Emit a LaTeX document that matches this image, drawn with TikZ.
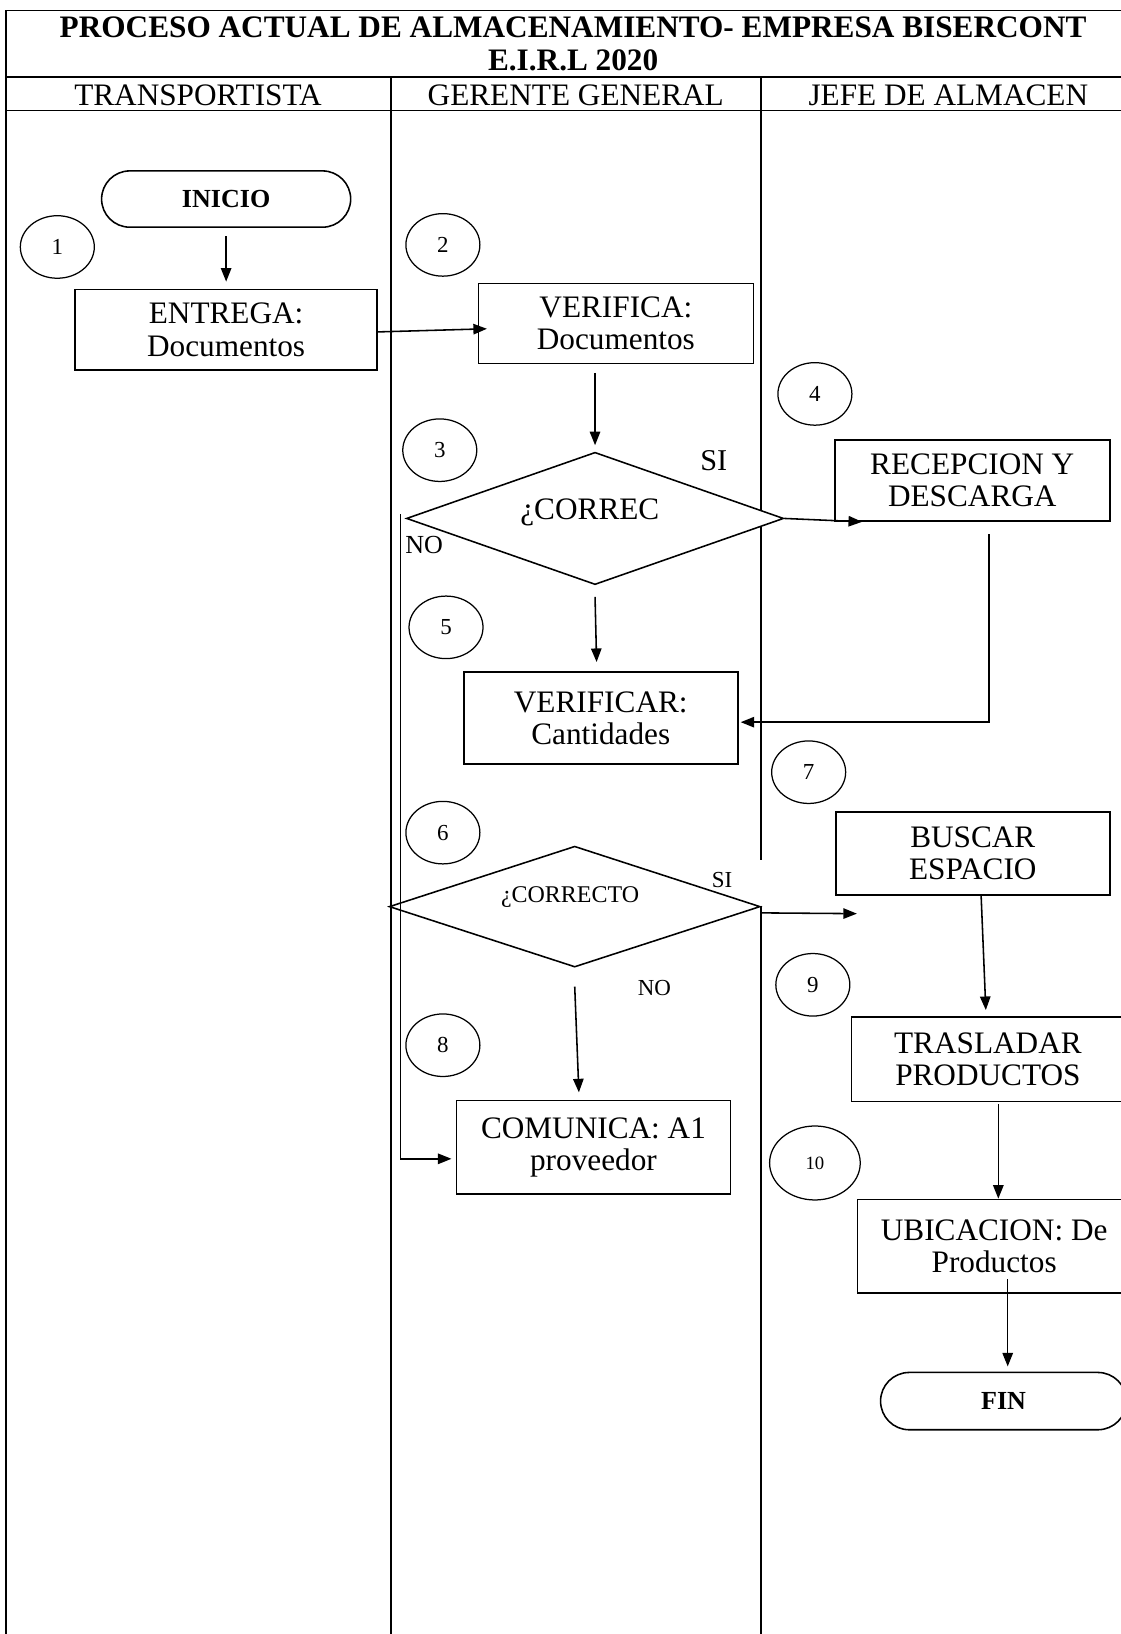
\documentclass[tikz,border=0pt]{standalone}
\usepackage{fontspec}
\setmainfont{Liberation Serif}
\usetikzlibrary{shapes.geometric,shapes.misc,arrows.meta}
\begin{document}
\begin{tikzpicture}[x=1pt,y=-1pt,
  ln/.style={line width=1.5pt},
  box/.style={draw,line width=1.5pt,rectangle,inner sep=0pt,align=center,fill=white,font=\fontsize{30pt}{31pt}\selectfont},
  term/.style={draw,line width=1.5pt,rounded rectangle,inner sep=0pt,fill=white,font=\bfseries\fontsize{25pt}{27pt}\selectfont},
  dia/.style={draw,line width=1.5pt,diamond,fill=white,inner sep=0pt},
  num/.style={draw,ellipse,line width=1.2pt,inner sep=0pt,minimum width=71pt,minimum height=60pt,font=\fontsize{22pt}{22pt}\selectfont},
  arr/.style={line width=1.5pt,-{Triangle[length=13pt,width=10pt]}},
  hdr/.style={inner sep=0pt,font=\fontsize{30pt}{31pt}\selectfont},
  lbl/.style={inner sep=0pt}
]
\useasboundingbox (0,0) rectangle (1075,1568);
% table
\draw[ln] (6,10) -- (1090,10);
\draw[ln] (6,74) -- (1090,74);
\draw[ln] (6,106) -- (1090,106);
\draw[ln] (6,10) -- (6,1575);
\draw[ln] (375,74) -- (375,1575);
\draw[ln] (730,74) -- (730,825);
\draw[ln] (730,869) -- (730,1575);
\node[inner sep=0pt,align=center,font=\bfseries\fontsize{30pt}{31pt}\selectfont] (title) at (550,42)
  {PROCESO ACTUAL DE ALMACENAMIENTO- EMPRESA BISERCONT\\E.I.R.L 2020};
\node[hdr] (h1) at (190,91) {TRANSPORTISTA};
\node[hdr] (h2) at (552.5,91) {GERENTE GENERAL};
\node[hdr] (h3) at (910,91) {JEFE DE ALMACEN};

% terminals and boxes
\node[term,minimum width=239pt,minimum height=54pt] (inicio) at (217,191) {INICIO};
\node[box,minimum width=290pt,minimum height=77pt] (entrega) at (217,316.5) {ENTREGA:\\Documentos};
\node[box,minimum width=264pt,minimum height=77pt] (verifica) at (591,310.5) {VERIFICA:\\Documentos};
\node[box,minimum width=264pt,minimum height=78pt] (recep) at (933,461) {RECEPCION Y\\DESCARGA};
\node[box,minimum width=263pt,minimum height=88pt] (verificar) at (576.5,689) {VERIFICAR:\\Cantidades};
\node[box,minimum width=263pt,minimum height=80pt] (buscar) at (933.5,819) {BUSCAR\\ESPACIO};
\node[box,minimum width=263pt,minimum height=90pt] (comunica) at (569.5,1101) {COMUNICA: A1\\proveedor};
\node[box,minimum width=262pt,minimum height=81pt] (trasladar) at (948,1016.5) {TRASLADAR\\PRODUCTOS};
\node[box,minimum width=262pt,minimum height=90pt] (ubicacion) at (954,1196) {UBICACION: De\\Productos};
\node[term,minimum width=236pt,minimum height=55pt] (fin) at (963,1344.5) {FIN};

% decisions
\node[dia,minimum width=362pt,minimum height=127pt] (d1) at (571,497.5) {};
\node[lbl,font=\fontsize{30pt}{31pt}\selectfont] (d1t) at (566,492) {¿CORREC};
\node[dia,minimum width=356pt,minimum height=116pt] (d2) at (551.5,870) {};
\node[lbl,font=\fontsize{23pt}{24pt}\selectfont] (d2t) at (547,861) {¿CORRECTO};

% labels
\node[lbl,font=\fontsize{29pt}{30pt}\selectfont] (si1) at (685,442) {SI};
\node[lbl,font=\fontsize{25pt}{26pt}\selectfont] (no1) at (407,523) {NO};
\node[lbl,font=\fontsize{22pt}{23pt}\selectfont] (si2) at (693,844) {SI};
\node[lbl,font=\fontsize{22pt}{23pt}\selectfont] (no2) at (628,948) {NO};

% step numbers
\node[num] (c1) at (55,237) {1};
\node[num] (c2) at (425,235) {2};
\node[num] (c3) at (422,432) {3};
\node[num] (c4) at (782,378) {4};
\node[num] (c5) at (428,602) {5};
\node[num] (c6) at (425,799) {6};
\node[num] (c7) at (776,741) {7};
\node[num] (c8) at (425,1003) {8};
\node[num] (c9) at (780,945) {9};
\node[num,minimum width=87pt,minimum height=71pt,font=\fontsize{18pt}{18pt}\selectfont] (c10) at (782,1116) {10};

% connectors
\draw[arr] ([yshift=-8pt]inicio.south) -- ([yshift=7pt]entrega.north);
\draw[arr] ([yshift=-2pt]entrega.east) -- ([xshift=9pt,yshift=-5pt]verifica.west);
\draw[arr] ([xshift=-20pt,yshift=-8pt]verifica.south) -- ([yshift=6pt]d1.north);
\draw[arr] (d1.east) -- ([xshift=27pt]recep.south west);
\draw[arr] ([yshift=-11pt]d1.south) -- ([xshift=-4pt,yshift=9pt]verificar.north);
\draw[arr] ([xshift=16pt,yshift=-12pt]recep.south) |- ([xshift=2pt,yshift=-4pt]verificar.east);
\draw[arr] ([xshift=-5pt,yshift=4pt]d1.west) |- ([xshift=-4pt,yshift=-11pt]comunica.west);
\draw[arr] ([yshift=-6pt]d2.east) -- ([xshift=21pt,yshift=-17pt]buscar.south west);
\draw[arr] ([yshift=-18pt]d2.south) -- ([xshift=-14pt,yshift=7pt]comunica.north);
\draw[arr] ([xshift=8pt]buscar.south) -- ([xshift=-2pt,yshift=6pt]trasladar.north);
\draw[arr] ([xshift=10pt,yshift=-2pt]trasladar.south) -- ([xshift=4pt]ubicacion.north);
\draw[arr] ([xshift=13pt,yshift=14pt]ubicacion.south) -- ([xshift=4pt,yshift=5pt]fin.north);
\end{tikzpicture}
\end{document}
